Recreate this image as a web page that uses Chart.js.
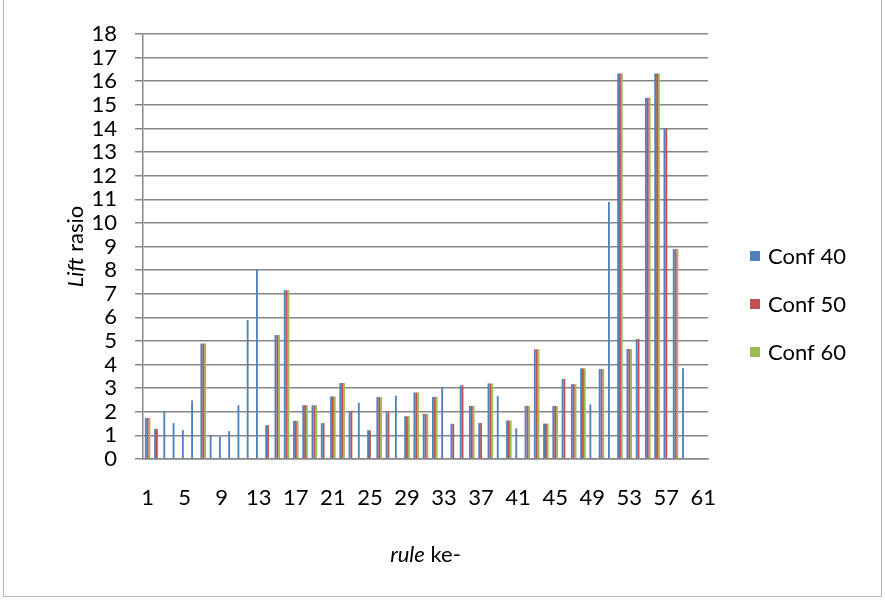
<!DOCTYPE html>
<html>
<head>
<meta charset="utf-8">
<script src="https://cdn.jsdelivr.net/npm/chart.js@4.4.1/dist/chart.umd.min.js"></script>
<style>
  html, body { margin: 0; padding: 0; background: #ffffff; }
  canvas { display: block; }
</style>
</head>
<body>
<canvas id="chart" width="885" height="600"></canvas>
<script>
// Rule numbers on the x axis
const rules = [
  1, 2, 3, 4, 5, 6, 7, 8, 9, 10,
  11, 12, 13, 14, 15, 16, 17, 18, 19, 20,
  21, 22, 23, 24, 25, 26, 27, 28, 29, 30,
  31, 32, 33, 34, 35, 36, 37, 38, 39, 40,
  41, 42, 43, 44, 45, 46, 47, 48, 49, 50,
  51, 52, 53, 54, 55, 56, 57, 58, 59, 60,
  61
];

// Lift ratio per rule, for each minimum-confidence setting (null = rule not produced)
const conf40 = [
  1.74, 1.27, 2.00, 1.52, 1.23, 2.48, 4.89, 0.98, 0.95, 1.18,
  2.28, 5.89, 8.00, 1.43, 5.25, 7.15, 1.61, 2.28, 2.28, 1.52,
  2.65, 3.22, 2.04, 2.38, 1.22, 2.63, 1.98, 2.68, 1.81, 2.82,
  1.91, 2.63, 3.05, 1.49, 3.12, 2.25, 1.52, 3.20, 2.66, 1.63,
  1.30, 2.25, 4.65, 1.50, 2.25, 3.39, 3.17, 3.84, 2.31, 3.81,
  10.88, 16.33, 4.66, 5.08, 15.30, 16.33, 14.00, 8.89, 3.84, null,
  null
];
const conf50 = [
  1.74, 1.27, null, null, null, null, 4.89, null, null, null,
  null, null, null, 1.43, 5.25, 7.15, 1.61, 2.28, 2.28, 1.52,
  2.65, 3.22, 2.04, null, 1.22, 2.63, 1.98, null, 1.81, 2.82,
  1.91, 2.63, null, 1.49, 3.12, 2.25, 1.52, 3.20, null, 1.63,
  null, 2.25, 4.65, 1.50, 2.25, 3.39, 3.17, 3.84, null, 3.81,
  null, 16.33, 4.66, 5.08, 15.30, 16.33, 14.00, 8.89, null, null,
  null
];
const conf60 = [
  1.74, null, null, null, null, null, 4.89, null, null, null,
  null, null, null, null, 5.25, 7.15, 1.61, 2.28, 2.28, null,
  2.65, 3.22, null, null, null, 2.63, null, null, 1.81, 2.82,
  1.91, 2.63, null, null, null, 2.25, null, 3.20, null, 1.63,
  null, 2.25, 4.65, 1.50, 2.25, null, 3.17, 3.84, null, 3.81,
  null, 16.33, 4.66, null, 15.30, 16.33, null, 8.89, null, null,
  null
];

// Only every fourth rule number is labelled
const shownTicks = ['1', '5', '9', '13', '17', '21', '25', '29', '33', '37', '41', '45', '49', '53', '57', '61'];

const seriesNames = ['Conf 40', 'Conf 50', 'Conf 60'];
const xTitle = [{ text: 'rule', italic: true }, { text: ' ke-', italic: false }];
const yTitle = [{ text: 'Lift', italic: true }, { text: ' rasio', italic: false }];

const BLUE = '#4F81BD';
const RED = '#C0504D';
const GREEN = '#9BBB59';
const GRID = '#868686';
const FONT = 'Lato, "Open Sans", sans-serif';
const FONT_SIZE = 22;

// Draws text made of italic and upright runs, centred on (cx, cy)
function drawRuns(ctx, runs, cx, cy) {
  const widths = runs.map(r => {
    ctx.font = (r.italic ? 'italic ' : '') + FONT_SIZE + 'px ' + FONT;
    return ctx.measureText(r.text).width;
  });
  let x = cx - widths.reduce((s, w) => s + w, 0) / 2;
  ctx.textAlign = 'left';
  ctx.textBaseline = 'middle';
  runs.forEach((r, i) => {
    ctx.font = (r.italic ? 'italic ' : '') + FONT_SIZE + 'px ' + FONT;
    ctx.fillText(r.text, x, cy);
    x += widths[i];
  });
}

// White page with a thin frame round the chart
const framePlugin = {
  id: 'frame',
  beforeDraw(chart) {
    const { ctx, width, height } = chart;
    ctx.save();
    ctx.fillStyle = '#ffffff';
    ctx.fillRect(0, 0, width, height);
    ctx.strokeStyle = '#b4b4b4';
    ctx.lineWidth = 1;
    ctx.strokeRect(3.5, -1, width - 7, height - 2.5);
    ctx.restore();
  }
};

// Axis titles with the italic words
const titlesPlugin = {
  id: 'axisTitles',
  afterDraw(chart) {
    const { ctx, chartArea: a } = chart;
    ctx.save();
    ctx.fillStyle = '#000000';
    drawRuns(ctx, xTitle, (a.left + a.right) / 2, 555);
    ctx.translate(76, (a.top + a.bottom) / 2);
    ctx.rotate(-Math.PI / 2);
    drawRuns(ctx, yTitle, 0, 0);
    ctx.restore();
  }
};

// Series key to the right of the plot
const keyPlugin = {
  id: 'sideKey',
  afterDraw(chart) {
    const ctx = chart.ctx;
    const x0 = 750, y0 = 256, step = 48, box = 10;
    ctx.save();
    chart.data.datasets.forEach((ds, i) => {
      const cy = y0 + i * step;
      ctx.fillStyle = ds.backgroundColor;
      ctx.fillRect(x0, cy - box / 2, box, box);
      ctx.fillStyle = '#000000';
      ctx.font = FONT_SIZE + 'px ' + FONT;
      ctx.textAlign = 'left';
      ctx.textBaseline = 'middle';
      ctx.fillText(ds.label, x0 + box + 8, cy + 1);
    });
    ctx.restore();
  }
};

new Chart(document.getElementById('chart'), {
  type: 'bar',
  data: {
    labels: rules.map(String),
    datasets: [
      { label: seriesNames[0], data: conf40, backgroundColor: BLUE },
      { label: seriesNames[1], data: conf50, backgroundColor: RED },
      { label: seriesNames[2], data: conf60, backgroundColor: GREEN }
    ]
  },
  options: {
    responsive: false,
    animation: false,
    devicePixelRatio: 1,
    layout: { padding: { top: 34, right: 177, bottom: 0, left: 0 } },
    datasets: { bar: { categoryPercentage: 0.6, barPercentage: 1.0, borderWidth: 0 } },
    plugins: {
      legend: { display: false },
      tooltip: { enabled: false }
    },
    scales: {
      x: {
        grid: { display: false, drawTicks: false },
        border: { display: true, color: GRID, width: 1.5 },
        ticks: {
          autoSkip: false,
          maxRotation: 0,
          minRotation: 0,
          padding: 26,
          color: '#000000',
          font: { family: FONT, size: FONT_SIZE },
          callback(value) {
            const lbl = this.getLabelForValue(value);
            return shownTicks.includes(lbl) ? lbl : '';
          }
        },
        afterFit(scale) { scale.height = 141; }
      },
      y: {
        min: 0,
        max: 18,
        grid: { color: GRID, lineWidth: 1.5, tickLength: 8 },
        border: { display: true, color: GRID, width: 1.5 },
        ticks: {
          stepSize: 1,
          autoSkip: false,
          padding: 18,
          color: '#000000',
          font: { family: FONT, size: FONT_SIZE }
        },
        afterFit(scale) { scale.width = 143; }
      }
    }
  },
  plugins: [framePlugin, titlesPlugin, keyPlugin]
});
</script>
</body>
</html>
